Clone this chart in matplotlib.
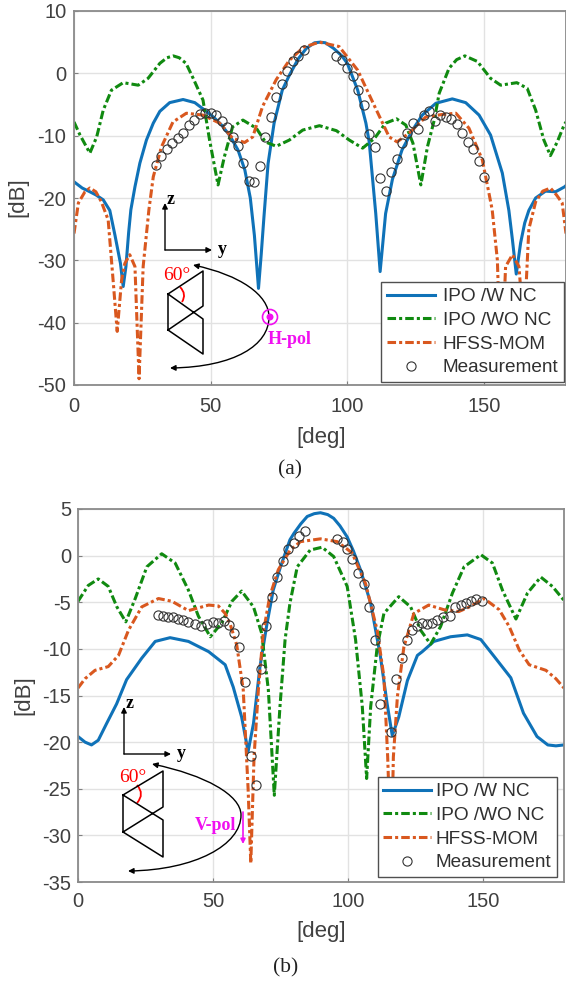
import matplotlib
matplotlib.use("Agg")
import matplotlib.pyplot as plt
from matplotlib.patches import Circle, FancyArrowPatch, PathPatch
from matplotlib.path import Path

### data ###

# panel (a)
a_blue_x = [0, 3, 5.8, 8, 10.7, 13.1, 15, 17, 18, 19, 20, 20.8, 22.3, 24.1, 26.5, 29, 31.4, 35, 39.9, 44.2, 47.8, 51, 54, 57, 60, 62.5, 64.5, 66, 67.5,
            68.5, 69.5, 71, 73.2, 76.2, 78.8, 82, 85, 88, 90, 92, 95, 98, 100, 103.8, 106.8, 108, 110.4, 112, 114, 116.5, 120, 124, 127.4,
            132.4, 138.4, 143.3, 148.2, 152.4, 156.7, 159.1, 160.4, 161.8, 163.4, 164.9, 166.4, 168.9, 172.5, 176.2, 179.5, 180]
a_blue_y = [-17.4, -18.4, -19, -19.5, -20.3, -22, -26, -30.5, -34.2, -31, -25.5, -21.9, -18.2, -14.4, -10.7, -8, -6.1, -4.7, -4.2, -4.7, -5.9, -7, -8.3, -10, -12.3, -15.5, -20, -26, -34.5,
            -29, -23, -14.5, -8, -2.7, -0.3, 2.3, 4, 4.9, 5, 4.9, 4, 2.8, 1.6, -2.7, -8, -11, -22.5, -31.8, -22.5, -17, -12.3, -9, -6.7,
            -4.8, -4.1, -4.7, -6.7, -9.9, -16, -22, -26.7, -32.2, -27.2, -24, -22, -20, -18.9, -19, -18.2, -18]
a_green_x = [0, 2.2, 5.8, 8.3, 10.7, 13.7, 18, 23.5, 27.1, 31.4, 34, 36.3, 38.5, 41, 43.6, 47.2, 49.6, 52.7, 55, 58, 61.8, 66.7, 70, 74, 78.8, 83.7, 89.8,
             96, 100.7, 105.6, 110, 114, 118, 121.4, 124, 126.9, 129.3, 131.8, 133.6, 137.2, 140, 143, 147.6, 152.4, 156.1, 162, 165.8, 168.9, 171.9, 174.3, 176.8, 179.3, 180]
a_green_y = [-7.8, -9.9, -12.8, -10.2, -5.9, -2.7, -1.5, -1.9, -0.8, 1.6, 2.5, 2.8, 2.5, 1.6, -0.8, -4.3, -10.7, -17.9, -13.4, -8.6, -7.5, -8.8, -11, -11.7, -10.7, -9.1, -8.4,
             -9.2, -10.7, -12, -10.4, -8, -7.3, -8.3, -11.2, -17.9, -11.8, -7.5, -3.2, 0.8, 2.2, 2.8, 1.9, -0.8, -1.9, -1.5, -2.4, -5.9, -10.7, -13.2, -11, -8.3, -7.8]
a_orange_x = [0, 1.6, 4, 5.8, 8, 10, 12.5, 14.4, 15.8, 17.4, 18.6, 20.4, 22.3, 23.8, 25.3, 27.4, 29, 32, 36.2, 41.1, 47.2, 53.3, 58, 62.4, 65.4, 69, 74, 78.8, 84, 89.8,
              97, 103.8, 110, 115.3, 118.2, 122.6, 128.7, 134.7, 139.7, 144.5, 149.4, 151.8, 153, 154.9, 156.2, 157.9, 160.4, 162.8, 164.6, 166.4, 168.9, 171.5, 174.3, 176.5, 178.6, 180]
a_orange_y = [-25.7, -20.8, -19, -18.4, -19, -20.6, -23.5, -33.7, -41.4, -33.2, -30.5, -29.1, -31, -49, -31, -21.9, -16.6, -11.8, -7.8, -6.4, -6.7, -8, -10.4, -11.1, -10.2, -5.3, -1, 2.1, 4.2, 5,
              4.3, 0.5, -5.3, -10.2, -11, -9.6, -7, -6.6, -6.4, -8.8, -13.9, -19.2, -21.9, -30, -49, -31, -29.1, -31, -41.4, -25, -20.6, -18.9, -18.4, -19.5, -20.8, -25.7]
a_meas_x = [30, 32, 34, 36, 38, 40, 42, 44, 46, 48, 50, 52, 54, 56, 58, 60, 62, 64, 66, 68, 70, 72, 74, 76, 78, 80, 82, 84,
            96, 98, 100, 102, 104, 106, 108, 110, 112, 114, 116, 118, 120, 122, 124, 126, 128, 130, 132, 134, 136, 138, 140, 142, 144, 146, 148, 150]
a_meas_y = [-14.65, -13.2, -12.1, -11.2, -10.4, -9.5, -8.3, -7.5, -6.5, -6.4, -6.3, -6.7, -7.6, -8.6, -10.2, -11.6, -14.4, -17.2, -17.4, -14.9, -10.2, -7, -3.85, -1.7, 0.4, 1.9, 2.8, 3.7,
            2.8, 2.1, 0.9, -0.5, -2.6, -5.1, -9.8, -11.8, -16.8, -18.8, -15.8, -13.7, -11.1, -9.6, -8, -9, -6.7, -6, -7.6, -6.7, -7, -7.3, -8.2, -9.6, -11, -12.1, -14, -16.7]

# panel (b)
b_blue_x = [0, 2.6, 5, 7.5, 10.6, 14.3, 18, 23.6, 28.6, 34.1, 40.9, 48.4, 54.5, 57.5, 60.6, 63, 65, 67.4, 70, 72.3, 75, 78.5, 80, 82.5, 84.9, 87.5, 89.8,
            92.5, 94.7, 97, 99.7, 102, 104.6, 108.4, 112, 114.5, 116.4, 118.8, 122, 125.7, 127.5, 131.8, 138, 144.2, 149.2, 154.1, 160.3, 165, 170, 174, 177, 180]
b_blue_y = [-19.4, -20, -20.3, -19.8, -18, -15.9, -13.3, -11, -9.2, -8.8, -9.2, -10.3, -11.7, -14.1, -17.3, -21, -18, -11.9, -7.3, -3.7, -1.2, 1.7, 2.4, 3.4, 4.2, 4.5, 4.6,
            4.4, 4, 3.2, 2, 0.5, -1.5, -5.1, -10.8, -15.9, -19.3, -17.3, -13.4, -10.7, -10.3, -9.2, -8.7, -8.5, -9, -10.8, -13.1, -16.9, -19.4, -20.3, -20.4, -20.3]
b_green_x = [0, 3.8, 7.5, 11.2, 14.4, 17.7, 21.2, 25.5, 31, 36, 40.9, 44.6, 49, 53.3, 57, 60.6, 65, 68, 70.5, 72.7, 74.8, 76.7, 78.5, 81.2, 86, 90.4,
             94.7, 99.7, 102.8, 105.3, 106.9, 108.4, 110.8, 113.3, 118.8, 123.2, 126.9, 130.6, 134.3, 138.7, 143, 149.2, 153.5, 157.2, 162.2, 166.5, 171.4, 175.7, 180]
b_green_y = [-4.9, -3.2, -2.5, -3.3, -5.5, -7.1, -4.6, -1.2, 0.2, -0.8, -3.7, -6.5, -8.7, -7.2, -4.9, -3.8, -5.5, -8.3, -14.4, -25.7, -16.2, -9, -5.1, -1.2, 0.6, 0.9,
             -0.1, -3.3, -9, -16.2, -23.9, -16.2, -9.8, -6.2, -4.4, -5.5, -8, -9.5, -7.6, -4, -1.2, 0.1, -0.8, -3.7, -6.8, -4, -2.3, -3.3, -4.8]
b_orange_x = [0, 2.6, 6.3, 11.2, 15, 18.7, 23.6, 29.8, 34.8, 40.9, 48.4, 52, 54.5, 56.3, 58.8, 61.2, 63, 64, 65.2, 66.8, 68.6, 71, 74.2, 78.6, 82.4, 89.8,
              96, 101.5, 106.5, 110.8, 113.3, 114.7, 116, 116.8, 118.3, 120.7, 124.4, 129.9, 135.5, 141, 145, 150.4, 156, 159.7, 163.4, 167.1, 173.3, 177, 180]
b_orange_y = [-14.2, -13.2, -12.3, -11.9, -10.7, -8, -5.5, -4.6, -4.9, -5.9, -5.3, -5.4, -6.2, -7.3, -9.6, -14.4, -25, -33, -21.6, -14.4, -8.3, -4.4, -1.5, 0.6, 1.5, 1.8,
              1.5, 0.3, -3, -8, -13, -21.6, -33, -21.6, -15.1, -9.8, -6.2, -5.3, -5.8, -6, -5.5, -4.6, -5.8, -7.6, -10.1, -11.7, -12.3, -13.2, -14.2]
b_meas_x = [29.7, 31.6, 33.5, 35.3, 37.2, 39, 40.9, 43.3, 45.6, 47.7, 49.9, 52, 54, 56, 57.8, 59.8, 61.9, 63.9, 65.9, 67.7, 69.6, 71.7, 73.7, 75.8, 77.6, 79.9, 81.8, 83.9,
            95.8, 98, 99.8, 101.6, 103.8, 105.8, 107.9, 110, 112, 115.8, 117.8, 120, 122, 123.8, 125.6, 127.5, 129.4, 131.2, 133.1, 135, 137.7, 139.6, 141.8, 143.6, 145.5, 147.4, 149.8]
b_meas_y = [-6.4, -6.5, -6.6, -6.6, -6.8, -6.9, -7.1, -7.3, -7.6, -7.3, -7.1, -7.2, -7, -7.4, -8.3, -9.8, -13.6, -21.5, -24.6, -12.2, -7.5, -4.4, -2.3, -0.6, 0.7, 1.4, 2.1, 2.6,
            1.8, 1.5, 0.7, -0.4, -1.9, -3, -5.5, -9.1, -15.9, -18.9, -13.2, -11, -9, -8, -7.5, -7.2, -7.3, -7.2, -6.9, -6.6, -6.5, -5.5, -5.3, -5.1, -4.9, -4.7, -4.9]

labels = ["IPO /W NC", "IPO /WO NC", "HFSS-MOM", "Measurement"]
x_ticks = [0, 50, 100, 150]
a_y_ticks = [-50, -40, -30, -20, -10, 0, 10]
b_y_ticks = [-35, -30, -25, -20, -15, -10, -5, 0, 5]

BLUE = "#0f72b8"
GREEN = "#108a10"
ORANGE = "#d9581f"
MAGENTA = "#f010f0"
GRAY = "#404040"
W, H = 566, 985

plt.rcParams["font.family"] = ["Liberation Sans", "DejaVu Sans"]
plt.rcParams["axes.unicode_minus"] = False


def draw_panel(box, curves, y_lim, y_ticks, legend_xy, xlabel_xy, ylabel_xy, x_pad, y_pad, handle_len, text_pad):
    left, top, right, bottom = box
    ax = fig.add_axes([left / W, 1 - bottom / H, (right - left) / W, (bottom - top) / H])
    blue, green, orange, meas = curves
    dd = (2.8, 1, 1, 1)
    ax.plot(*blue, color=BLUE, lw=2.2, label=labels[0])
    ax.plot(*green, color=GREEN, lw=2.2, dashes=dd, label=labels[1])
    ax.plot(*orange, color=ORANGE, lw=2.2, dashes=dd, label=labels[2])
    ax.plot(*meas, ls="none", marker="o", ms=6.6, mfc="none", mec="#333333", mew=0.8, label=labels[3])
    ax.set_xlim(0, 180)
    ax.set_ylim(*y_lim)
    ax.set_xticks(x_ticks)
    ax.set_yticks(y_ticks)
    ax.grid(True, color="#e2e2e2", lw=1)
    ax.set_axisbelow(True)
    ax.tick_params(direction="in", length=3, color="#808080", labelsize=14.5, labelcolor=GRAY)
    ax.tick_params(axis="x", pad=x_pad)
    ax.tick_params(axis="y", pad=y_pad)
    for s in ax.spines.values():
        s.set_color("#8a8a8a")
        s.set_linewidth(1.3)
    ax.set_xlabel("[deg]", fontsize=16, color=GRAY, va="center")
    ax.set_ylabel("[dB]", fontsize=16, color=GRAY, va="center")
    ax.xaxis.set_label_coords(xlabel_xy[0] / W, 1 - xlabel_xy[1] / H, transform=fig.transFigure)
    ax.yaxis.set_label_coords(ylabel_xy[0] / W, 1 - ylabel_xy[1] / H, transform=fig.transFigure)
    leg = ax.legend(loc="lower right", bbox_to_anchor=(legend_xy[0] / W, 1 - legend_xy[1] / H),
                    bbox_transform=fig.transFigure, fontsize=13.7, fancybox=False, framealpha=1,
                    edgecolor="#505050", borderaxespad=0, labelspacing=0.33, handlelength=handle_len,
                    handletextpad=text_pad, borderpad=0.3, labelcolor="#303030")
    leg.get_frame().set_linewidth(1)
    return ax


def sketch(ov, origin, z_top, y_end, arc, tri, deg_xy, red_arc):
    arrow = dict(arrowstyle="-|>", mutation_scale=8, color="black", lw=1, shrinkA=0, shrinkB=0)
    ov.add_patch(FancyArrowPatch(origin, (origin[0], z_top), **arrow))
    ov.add_patch(FancyArrowPatch(origin, (y_end, origin[1]), **arrow))
    ov.text(origin[0] + 2, z_top - 3, "z", family="Liberation Serif", weight="bold", fontsize=13, va="center")
    ov.text(y_end + 6, origin[1] - 1, "y", family="Liberation Serif", weight="bold", fontsize=13, va="center")
    start, c1, c2, mid, c3, c4, end = arc
    p = Path([start, c1, c2, mid, c3, c4, end], [Path.MOVETO] + [Path.CURVE4] * 6)
    ov.add_patch(FancyArrowPatch(path=p, arrowstyle="<|-|>", mutation_scale=8, color="black", lw=1))
    xl, xr, y0, y1, y2, y3, y4, y5 = tri
    ov.plot([xl, xr, xr, xl, xl, xr, xr, xl], [y0, y1, y2, y3, y0, y4, y5, y3], color="black", lw=1.1)
    ov.text(*deg_xy, "60°", family="Liberation Serif", color="red", fontsize=14, ha="center", va="center")
    ov.add_patch(PathPatch(Path(red_arc, [Path.MOVETO, Path.CURVE3, Path.CURVE3]), fc="none", ec="red", lw=1.3))


fig = plt.figure(figsize=(W / 100, H / 100), dpi=100)

draw_panel((74, 11, 566, 385),
           [(a_blue_x, a_blue_y), (a_green_x, a_green_y), (a_orange_x, a_orange_y), (a_meas_x, a_meas_y)],
           (-50, 10), a_y_ticks, (564, 382), (321, 437), (18, 197), 9, 5.5, 2.55, 0.4)
draw_panel((78, 509, 564, 882),
           [(b_blue_x, b_blue_y), (b_green_x, b_green_y), (b_orange_x, b_orange_y), (b_meas_x, b_meas_y)],
           (-35, 5), b_y_ticks, (557, 877), (321, 932), (24, 695), 7.5, 5, 2.5, 0.25)

# overlay in picture pixels for the antenna sketches and captions
ov = fig.add_axes([0, 0, 1, 1], facecolor="none")
ov.set_xlim(0, W)
ov.set_ylim(H, 0)
ov.axis("off")

sketch(ov, (165, 250), 203, 212,
       [(193, 265), (240, 275), (269, 295), (269, 317), (269, 345), (235, 367), (170, 368)],
       (168, 203, 294, 271, 306, 330, 319, 354), (177, 276), [(180, 287), (187, 294), (182, 302)])
ov.add_patch(Circle((270, 317), 7.5, fc="none", ec=MAGENTA, lw=1.2))
ov.add_patch(Circle((270, 317), 3.5, fc=MAGENTA, ec="none"))
ov.text(268, 340, "H-pol", family="Liberation Serif", weight="bold", color=MAGENTA, fontsize=13, va="center")

sketch(ov, (124, 754), 707, 171,
       [(152, 764), (205, 775), (241, 795), (241, 815), (241, 845), (195, 870), (128, 871)],
       (123, 163, 795, 771, 807, 832, 820, 857), (133, 777), [(137, 785), (145, 794), (137, 803)])
ov.text(215, 825, "V-pol", family="Liberation Serif", weight="bold", color=MAGENTA, fontsize=13, ha="center", va="center")
ov.add_patch(FancyArrowPatch((243, 812), (243, 844), arrowstyle="-|>", mutation_scale=7, color=MAGENTA, lw=1.2,
                             shrinkA=0, shrinkB=0))

ov.text(290, 470, "(a)", family="Liberation Serif", fontsize=15.5, color="#222222", ha="center", va="center")
ov.text(286, 968, "(b)", family="Liberation Serif", fontsize=15.5, color="#222222", ha="center", va="center")

plt.savefig("out.png", dpi=100)
